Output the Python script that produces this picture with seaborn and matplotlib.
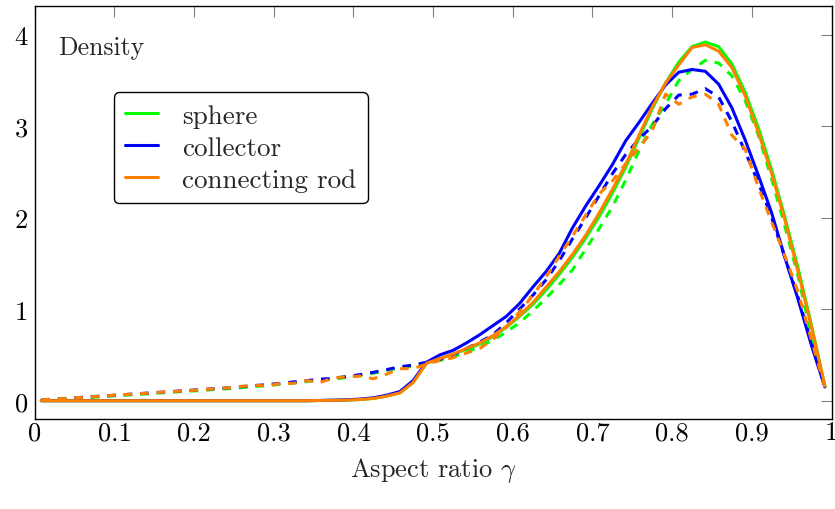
import numpy as np
import pandas as pd
import matplotlib
matplotlib.use("Agg")
import matplotlib.pyplot as plt
import seaborn as sns

# 60 histogram bins on [0, 1]; curves are plotted at the bin centres
gamma = (np.arange(60) + 0.5) / 60

# Solid curves
sphere = [0, 0, 0, 0, 0, 0, 0, 0, 0, 0,
          0, 0, 0, 0, 0, 0, 0, 0, 0, 0,
          0, 0.002, 0.004, 0.007, 0.013, 0.025, 0.05, 0.085, 0.20, 0.41,
          0.46, 0.51, 0.56, 0.62, 0.70, 0.80, 0.92, 1.05, 1.21, 1.38,
          1.57, 1.78, 2.01, 2.27, 2.55, 2.87, 3.19, 3.47, 3.70, 3.87,
          3.92, 3.87, 3.68, 3.37, 2.98, 2.52, 2.00, 1.44, 0.82, 0.16]
collector = [0, 0, 0, 0, 0, 0, 0, 0, 0, 0,
             0, 0, 0, 0, 0, 0, 0, 0, 0, 0,
             0, 0.003, 0.006, 0.01, 0.018, 0.032, 0.06, 0.10, 0.22, 0.42,
             0.50, 0.55, 0.63, 0.72, 0.82, 0.92, 1.06, 1.24, 1.41, 1.61,
             1.89, 2.13, 2.35, 2.58, 2.84, 3.04, 3.25, 3.45, 3.59, 3.62,
             3.60, 3.46, 3.20, 2.85, 2.46, 2.05, 1.56, 1.10, 0.60, 0.15]
rod = [0, 0, 0, 0, 0, 0, 0, 0, 0, 0,
       0, 0, 0, 0, 0, 0, 0, 0, 0, 0,
       0, 0.002, 0.004, 0.007, 0.013, 0.025, 0.05, 0.085, 0.20, 0.41,
       0.46, 0.51, 0.57, 0.63, 0.71, 0.81, 0.93, 1.07, 1.24, 1.41,
       1.60, 1.81, 2.05, 2.31, 2.58, 2.90, 3.21, 3.47, 3.67, 3.86,
       3.89, 3.82, 3.64, 3.33, 2.93, 2.48, 1.97, 1.40, 0.80, 0.16]

# Dashed curves
sphere_d = [0.008, 0.013, 0.021, 0.030, 0.039, 0.048, 0.057, 0.066, 0.075, 0.085,
            0.094, 0.103, 0.112, 0.122, 0.131, 0.142, 0.155, 0.165, 0.18, 0.195,
            0.21, 0.225, 0.235, 0.255, 0.275, 0.30, 0.33, 0.36, 0.38, 0.41,
            0.44, 0.48, 0.53, 0.59, 0.66, 0.75, 0.85, 0.98, 1.12, 1.27,
            1.43, 1.66, 1.88, 2.12, 2.41, 2.73, 3.02, 3.24, 3.50, 3.62,
            3.72, 3.69, 3.55, 3.28, 2.90, 2.42, 1.90, 1.35, 0.70, 0.15]
collector_d = [0.010, 0.017, 0.026, 0.036, 0.045, 0.055, 0.064, 0.074, 0.083, 0.093,
               0.102, 0.112, 0.121, 0.131, 0.140, 0.152, 0.165, 0.175, 0.19, 0.205,
               0.22, 0.235, 0.245, 0.265, 0.285, 0.31, 0.34, 0.37, 0.39, 0.42,
               0.45, 0.50, 0.57, 0.64, 0.72, 0.85, 1.00, 1.15, 1.32, 1.53,
               1.77, 2.00, 2.24, 2.48, 2.69, 2.86, 3.00, 3.19, 3.34, 3.35,
               3.41, 3.32, 3.05, 2.72, 2.38, 2.00, 1.56, 1.12, 0.62, 0.15]
rod_d = [0.010, 0.018, 0.027, 0.036, 0.046, 0.055, 0.065, 0.072, 0.083, 0.092,
         0.10, 0.11, 0.118, 0.13, 0.14, 0.155, 0.17, 0.16, 0.19, 0.19,
         0.22, 0.20, 0.25, 0.26, 0.27, 0.24, 0.29, 0.35, 0.35, 0.40,
         0.44, 0.47, 0.52, 0.57, 0.67, 0.80, 0.97, 1.15, 1.35, 1.58,
         1.80, 2.03, 2.26, 2.40, 2.59, 2.76, 2.95, 3.35, 3.24, 3.32,
         3.35, 3.24, 2.90, 2.75, 2.33, 1.95, 1.58, 1.18, 0.66, 0.15]

labels = ["sphere", "collector", "connecting rod"]
colors = ["#00ff00", "#0000ff", "#ff8000"]
x_ticks = [0, 0.1, 0.2, 0.3, 0.4, 0.5, 0.6, 0.7, 0.8, 0.9, 1]
x_tick_labels = ["0", "0.1", "0.2", "0.3", "0.4", "0.5", "0.6", "0.7", "0.8", "0.9", "1"]
y_ticks = [0, 1, 2, 3, 4]

sns.set_theme(style="white")
plt.rcParams.update({
    "font.family": ["cmr10", "DejaVu Serif"],
    "mathtext.fontset": "cm",
    "axes.unicode_minus": False,
    "axes.formatter.use_mathtext": True,
    "font.size": 19,
})

fig = plt.figure(figsize=(8.35, 5.1), dpi=100)
# plot box: x from 34.7 to 831.5 px, y from 6.7 to 420 px
ax = fig.add_axes([34.7 / 835, 1 - 420 / 510, (831.5 - 34.7) / 835, (420 - 6.7) / 510])

lw = 2.2
for name, ys, ys_d, c in zip(labels, [sphere, collector, rod],
                             [sphere_d, collector_d, rod_d], colors):
    sns.lineplot(x=gamma, y=ys, ax=ax, color=c, linewidth=lw, label=name)
    sns.lineplot(x=gamma, y=ys_d, ax=ax, color=c, linewidth=lw, legend=False,
                 linestyle=(0, (2.8, 2.6)))

ax.set_xlim(0, 1)
ax.set_ylim(-0.2, 4.317)
ax.set_xticks(x_ticks)
ax.set_xticklabels(x_tick_labels)
ax.set_yticks(y_ticks)
ax.set_yticklabels([str(v) for v in y_ticks])
ax.tick_params(direction="in", length=8, width=0.8, color="#808080",
               top=True, right=True, labelsize=19, labelcolor="black")
ax.tick_params(axis="x", pad=1)
ax.tick_params(axis="y", pad=5)
for s in ax.spines.values():
    s.set_color("black")
    s.set_linewidth(1.0)

ax.set_xlabel(r"Aspect ratio $\gamma$", fontsize=19, labelpad=8)
ax.set_ylabel("")

ax.text(0.0292, 0.884, "Density", transform=ax.transAxes, fontsize=18.5,
        ha="left", va="baseline")

handles, texts = ax.get_legend_handles_labels()
leg = ax.legend(handles, texts, loc="upper left",
                bbox_to_anchor=(114 / 835, 1 - 93.3 / 510),
                bbox_transform=fig.transFigure,
                fontsize=19.5, frameon=True, fancybox=True, framealpha=1,
                edgecolor="black", handlelength=1.2, handletextpad=0.9,
                borderpad=0.42, labelspacing=0.3, borderaxespad=0)
leg.get_frame().set_linewidth(1.0)

fig.savefig("out.png", dpi=100)
